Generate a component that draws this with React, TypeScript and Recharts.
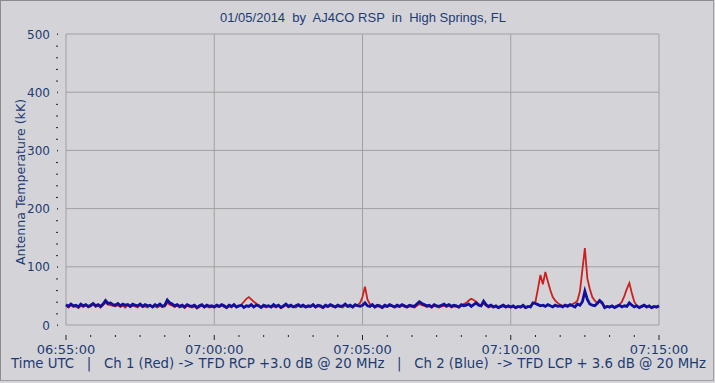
import React from "react";
import { LineChart, Line, XAxis, YAxis, CartesianGrid, ReferenceArea } from "recharts";

// sample interval in seconds from 06:55:00 UTC
const sampleStep = 5;

const ch1Red: number[] = [
  33,30,34,31,32,29,33,31,34,30,32,35,31,33,30,34,38,35,34,33,
  32,34,31,33,30,34,31,33,32,30,34,31,32,30,33,31,32,30,33,31,
  32,38,35,33,31,33,30,32,29,33,31,30,32,28,31,33,30,32,30,31,
  30,32,31,33,31,29,32,30,34,31,32,35,40,45,48,44,40,37,34,31,
  32,30,33,31,32,30,33,29,31,34,30,32,31,30,33,31,32,30,31,32,
  33,30,32,31,29,32,31,33,31,30,32,31,30,34,31,32,30,33,34,38,
  48,66,44,36,33,30,32,31,29,32,31,33,32,30,32,31,33,31,30,32,
  31,30,33,36,34,33,31,32,30,33,31,30,32,33,31,33,30,32,31,30,
  33,36,38,42,45,43,40,36,33,37,33,30,32,30,31,29,31,32,30,31,
  30,31,29,31,30,32,29,31,33,36,40,62,86,70,91,75,60,48,42,38,
  35,33,32,34,33,36,38,42,58,95,132,80,62,48,42,38,40,37,31,32,
  30,32,31,33,35,40,50,62,72,55,40,33,30,31,33,30,32,29,31,30,32,
];

const ch2Blue: number[] = [
  35,32,36,33,34,31,36,33,35,32,34,37,33,35,32,36,42,37,38,35,
  34,37,33,36,34,35,32,36,34,33,36,32,35,33,34,31,35,33,36,32,
  34,43,38,36,33,35,32,34,31,35,33,32,34,30,33,35,31,34,32,33,
  31,34,32,35,33,30,34,32,35,31,33,34,30,33,32,35,31,34,33,30,
  34,32,33,31,35,32,34,30,33,36,32,34,31,33,35,32,34,31,33,32,
  35,31,34,33,30,34,32,35,33,31,34,32,33,36,32,34,31,35,33,32,
  34,38,33,32,35,31,34,33,30,34,32,35,33,31,34,32,35,33,31,34,
  33,32,36,40,37,35,33,34,31,35,33,32,34,36,33,35,32,34,33,31,
  35,33,34,36,32,35,38,34,33,41,35,32,34,31,33,30,32,34,31,33,
  31,33,30,32,31,34,30,32,31,38,37,35,33,34,32,35,33,31,34,32,
  33,31,34,32,35,33,31,36,34,40,58,44,36,34,33,37,42,38,30,32,
  31,33,30,32,34,31,33,32,38,34,31,33,30,32,34,31,33,30,32,31,33,
];

const xMajorLabels = ["06:55:00", "07:00:00", "07:05:00", "07:10:00", "07:15:00"];
const xTicks: number[] = Array.from({ length: 25 }, (_, i) => i * 50);
const yTicks: number[] = Array.from({ length: 26 }, (_, i) => i * 20);

const titleText = "01/05/2014  by  AJ4CO RSP  in  High Springs, FL";
const footerText =
  "Time UTC   |   Ch 1 (Red) -> TFD RCP +3.0 dB @ 20 MHz   |   Ch 2 (Blue)  -> TFD LCP + 3.6 dB @ 20 MHz";
const yLabel = "Antenna Temperature (kK)";

const data = ch1Red.map((v, i) => ({ t: i * sampleStep, red: v, blue: ch2Blue[i] }));

const TEXT = "#1d3b73";
const BG = "#d4d4d8";

const YTick = (props: any) => {
  const { x, y, payload } = props;
  const v = payload.value;
  if (v % 100 === 0) {
    return (
      <g>
        <text x={x - 8} y={y} dy={4.5} textAnchor="end" fill={TEXT} fontSize={12} fontFamily="DejaVu Sans">
          {v}
        </text>
        <rect x={x - 1} y={y - 0.5} width={1} height={1.5} fill="#333" />
      </g>
    );
  }
  return <rect x={x - 2} y={y} width={2} height={1} fill="#222" />;
};

const XTick = (props: any) => {
  const { x, y, payload } = props;
  const v = payload.value;
  if (v % 300 === 0) {
    return (
      <g>
        <rect x={x - 0.5} y={y + 2} width={1} height={5} fill="#222" />
        <text x={x} y={y + 21} textAnchor="middle" fill={TEXT} fontSize={13} fontFamily="DejaVu Sans">
          {xMajorLabels[v / 300]}
        </text>
      </g>
    );
  }
  return <rect x={x - 0.5} y={y + 2} width={1} height={2} fill="#222" />;
};

export default function App() {
  return (
    <div style={{ position: "absolute", left: 0, top: 0, width: 715, height: 383, background: BG, overflow: "hidden" }}>
      <div
        style={{
          position: "absolute",
          left: 0,
          top: 0,
          width: 712,
          height: 379,
          border: "1px solid #8c8c8c",
          borderRightColor: "#a0a0a0",
          borderBottomColor: "#a0a0a0",
        }}
      />
      <div
        style={{
          position: "absolute",
          left: 0,
          top: 10,
          width: 726,
          textAlign: "center",
          fontFamily: "Liberation Sans",
          fontSize: 13,
          color: TEXT,
          whiteSpace: "pre",
        }}
      >
        {titleText}
      </div>
      <div
        style={{
          position: "absolute",
          left: 11,
          top: 356,
          fontFamily: "DejaVu Sans",
          fontSize: 13.3,
          color: TEXT,
          whiteSpace: "pre",
        }}
      >
        {footerText}
      </div>
      <div
        style={{
          position: "absolute",
          left: 20,
          top: 182,
          transform: "translate(-50%, -50%) rotate(-90deg)",
          fontFamily: "DejaVu Sans",
          fontSize: 12.6,
          color: TEXT,
          whiteSpace: "pre",
        }}
      >
        {yLabel}
      </div>
      <div style={{ position: "absolute", left: 0, top: 0 }}>
        <LineChart width={715} height={383} data={data} margin={{ top: 34, right: 56, bottom: 0, left: 0 }}>
          <CartesianGrid
            stroke="#a0a0a0"
            strokeDasharray=""
            horizontalValues={[100, 200, 300, 400]}
            verticalValues={[300, 600, 900]}
          />
          <ReferenceArea x1={0} x2={1200} y1={0} y2={500} fill="none" stroke="#a0a0a0" strokeWidth={1} ifOverflow="visible" />
          <XAxis
            dataKey="t"
            type="number"
            domain={[0, 1200]}
            ticks={xTicks}
            interval={0}
            height={58}
            axisLine={false}
            tickLine={false}
            tick={<XTick />}
          />
          <YAxis
            type="number"
            domain={[0, 500]}
            ticks={yTicks}
            interval={0}
            width={66}
            axisLine={false}
            tickLine={false}
            tick={<YTick />}
          />
          <Line dataKey="red" stroke="#cc2020" strokeWidth={1.8} dot={false} isAnimationActive={false} />
          <Line dataKey="blue" stroke="#10109a" strokeWidth={2.8} dot={false} isAnimationActive={false} />
        </LineChart>
      </div>
    </div>
  );
}
